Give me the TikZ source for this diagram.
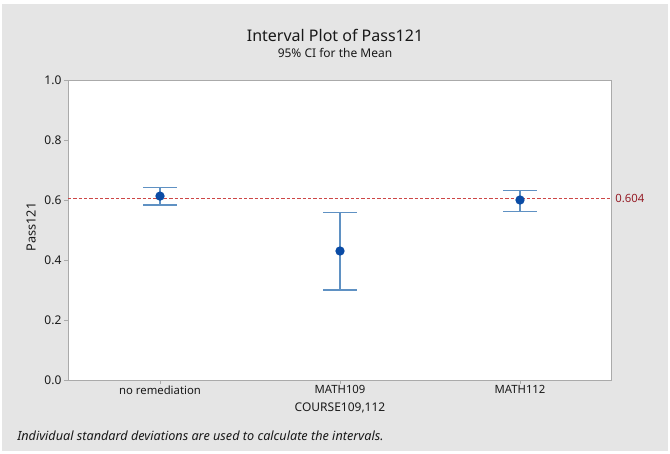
\documentclass[tikz,border=0pt]{standalone}
\usepackage{fontspec}
\setmainfont{Noto Sans}
\definecolor{panelgray}{RGB}{229,229,229}
\definecolor{framegray}{RGB}{170,170,170}
\definecolor{ciblue}{RGB}{95,145,195}
\definecolor{meanblue}{RGB}{10,75,165}
\definecolor{refred}{RGB}{205,70,70}
\definecolor{labred}{RGB}{150,30,40}
\definecolor{txtgray}{RGB}{25,25,25}
\begin{document}
\begin{tikzpicture}[x=0.75pt, y=0.75pt, text=txtgray,
    ticklab/.style={anchor=east, inner sep=1pt, font=\fontsize{9}{10}\selectfont},
    catlab/.style={anchor=north, inner sep=1pt, font=\fontsize{8.5}{10}\selectfont},
    cibar/.style={draw=ciblue, line width=0.9pt},
    meandot/.style={circle, fill=meanblue, inner sep=0pt, minimum size=7pt},
    refline/.style={draw=refred, line width=0.6pt, dash pattern=on 2.5pt off 1.5pt}]
	\useasboundingbox (0,0) rectangle (670,453);
	\fill[white] (0,0) rectangle (670,453);
	\fill[panelgray] (2,2) rectangle (668,449);

	% plot area
	\filldraw[fill=white, draw=framegray, line width=0.5pt] (68,73) rectangle (611,373);

	% titles
	\node[font=\fontsize{12}{14}\selectfont] (title) at (335,418) {Interval Plot of Pass121};
	\node[font=\fontsize{9}{11}\selectfont] (subtitle) at (335,400) {95\% CI for the Mean};

	% y axis
	\foreach \v/\lab in {0/0.0, 0.2/0.2, 0.4/0.4, 0.6/0.6, 0.8/0.8, 1/1.0} {
		\draw[framegray, line width=0.5pt] (64,{73+300*\v}) -- (68,{73+300*\v});
		\node[ticklab] at (63,{73+300*\v}) {\lab};
	}
	\node[rotate=90, font=\fontsize{9.5}{11}\selectfont] (ylab) at (31,226) {Pass121};

	% x axis
	\foreach \x in {160,340,520}
		\draw[framegray, line width=0.5pt] (\x,73) -- (\x,69);
	\node[catlab] (cat1) at (160,69) {no remediation};
	\node[catlab] (cat2) at (340,69) {MATH109};
	\node[catlab] (cat3) at (520,69) {MATH112};
	\node[font=\fontsize{9}{11}\selectfont] (xlab) at (340,45) {COURSE109,112};

	% reference line
	\coordinate (refL) at (68,{73+300*0.604});
	\coordinate (refR) at (611,{73+300*0.604});
	\draw[refline] (refL) -- (refR);
	\node[anchor=west, inner sep=1pt, text=labred, font=\fontsize{8.5}{10}\selectfont] (reflab) at ([xshift=2pt]refR) {0.604};

	% intervals
	\coordinate (nrhi) at (160,{73+300*0.641});
	\coordinate (nrlo) at (160,{73+300*0.583});
	\coordinate (mahi) at (340,{73+300*0.558});
	\coordinate (malo) at (340,{73+300*0.300});
	\coordinate (mbhi) at (520,{73+300*0.631});
	\coordinate (mblo) at (520,{73+300*0.561});

	\draw[cibar] (nrlo) -- (nrhi);
	\draw[cibar] ([xshift=-12.75pt]nrhi) -- ([xshift=12.75pt]nrhi);
	\draw[cibar] ([xshift=-12.75pt]nrlo) -- ([xshift=12.75pt]nrlo);
	\draw[cibar] (malo) -- (mahi);
	\draw[cibar] ([xshift=-12.75pt]mahi) -- ([xshift=12.75pt]mahi);
	\draw[cibar] ([xshift=-12.75pt]malo) -- ([xshift=12.75pt]malo);
	\draw[cibar] (mblo) -- (mbhi);
	\draw[cibar] ([xshift=-12.75pt]mbhi) -- ([xshift=12.75pt]mbhi);
	\draw[cibar] ([xshift=-12.75pt]mblo) -- ([xshift=12.75pt]mblo);

	\node[meandot] (nrmean) at (160,{73+300*0.613}) {};
	\node[meandot] (mamean) at (340,{73+300*0.430}) {};
	\node[meandot] (mbmean) at (520,{73+300*0.600}) {};

	% footnote
	\node[anchor=west, inner sep=0pt, font=\itshape\fontsize{9.5}{10}\selectfont] (foot) at (17,17) {Individual standard deviations are used to calculate the intervals.};
\end{tikzpicture}
\end{document}
